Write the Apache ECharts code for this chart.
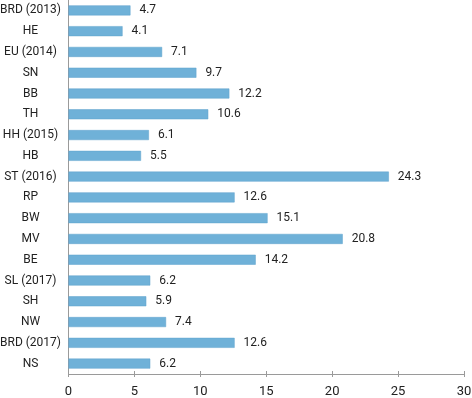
<!DOCTYPE html>
<html>
<head>
<meta charset="utf-8">
<script src="https://cdn.jsdelivr.net/npm/echarts@6/dist/echarts.min.js"></script>
<style>
  html, body { margin: 0; padding: 0; background: #fff; }
  #echart-box { width: 472px; height: 398px; }
</style>
</head>
<body>
<div id="echart-box"></div>
<script>
// Regionen / Wahlen von oben nach unten
const categories = ["BRD (2013)", "HE", "EU (2014)", "SN", "BB", "TH", "HH (2015)", "HB",
    "ST (2016)", "RP", "BW", "MV", "BE", "SL (2017)", "SH", "NW", "BRD (2017)", "NS"];
const values = [4.7, 4.1, 7.1, 9.7, 12.2, 10.6, 6.1, 5.5, 24.3, 12.6, 15.1, 20.8, 14.2, 6.2, 5.9, 7.4, 12.6, 6.2];
const xTicks = [0, 5, 10, 15, 20, 25, 30];

function init(){
    const element = document.getElementById("echart-box");
    const instance = echarts.init(element);

    const xMin = xTicks[0];
    const xMax = xTicks[xTicks.length - 1];

    let option = {
        animation: false,
        grid: {
            left: 68.5,
            right: 8,
            top: 0,
            bottom: 24,
            containLabel: false,
            outerBoundsMode: "none"
        },
        xAxis: [
            {
                type: "value",
                position: "bottom",
                min: xMin,
                max: xMax,
                interval: 5,
                axisLine: { show: true, lineStyle: { color: "#9a9a9a", width: 1 } },
                axisTick: { show: true, length: 3, lineStyle: { color: "#9a9a9a" } },
                splitLine: { show: false },
                axisLabel: {
                    color: "#222",
                    fontFamily: "Roboto",
                    fontSize: 13,
                    margin: 11
                }
            },
            {
                // 刻度线向上的部分
                type: "value",
                position: "bottom",
                offset: 0,
                min: xMin,
                max: xMax,
                interval: 5,
                axisLine: { show: false },
                axisTick: { show: true, inside: true, length: 3, lineStyle: { color: "#9a9a9a" } },
                splitLine: { show: false },
                axisLabel: { show: false }
            }
        ],
        yAxis: {
            type: "category",
            data: categories,
            // 从上往下排列
            inverse: true,
            axisLine: { show: true, lineStyle: { color: "#9a9a9a", width: 1 } },
            axisTick: { show: false },
            axisLabel: {
                color: "#222",
                fontFamily: "Roboto",
                fontSize: 12,
                align: "center",
                margin: 38
            }
        },
        series: [
            {
                type: "bar",
                data: values,
                barWidth: 10,
                itemStyle: {
                    color: "#6fb1d8",
                    borderColor: "#5fa3cc",
                    borderWidth: 0.5
                },
                label: {
                    show: true,
                    position: "right",
                    distance: 9,
                    color: "#222",
                    fontFamily: "Roboto",
                    fontSize: 12
                }
            }
        ]
    };

    instance && instance.setOption(option);
}
init();
</script>
</body>
</html>
